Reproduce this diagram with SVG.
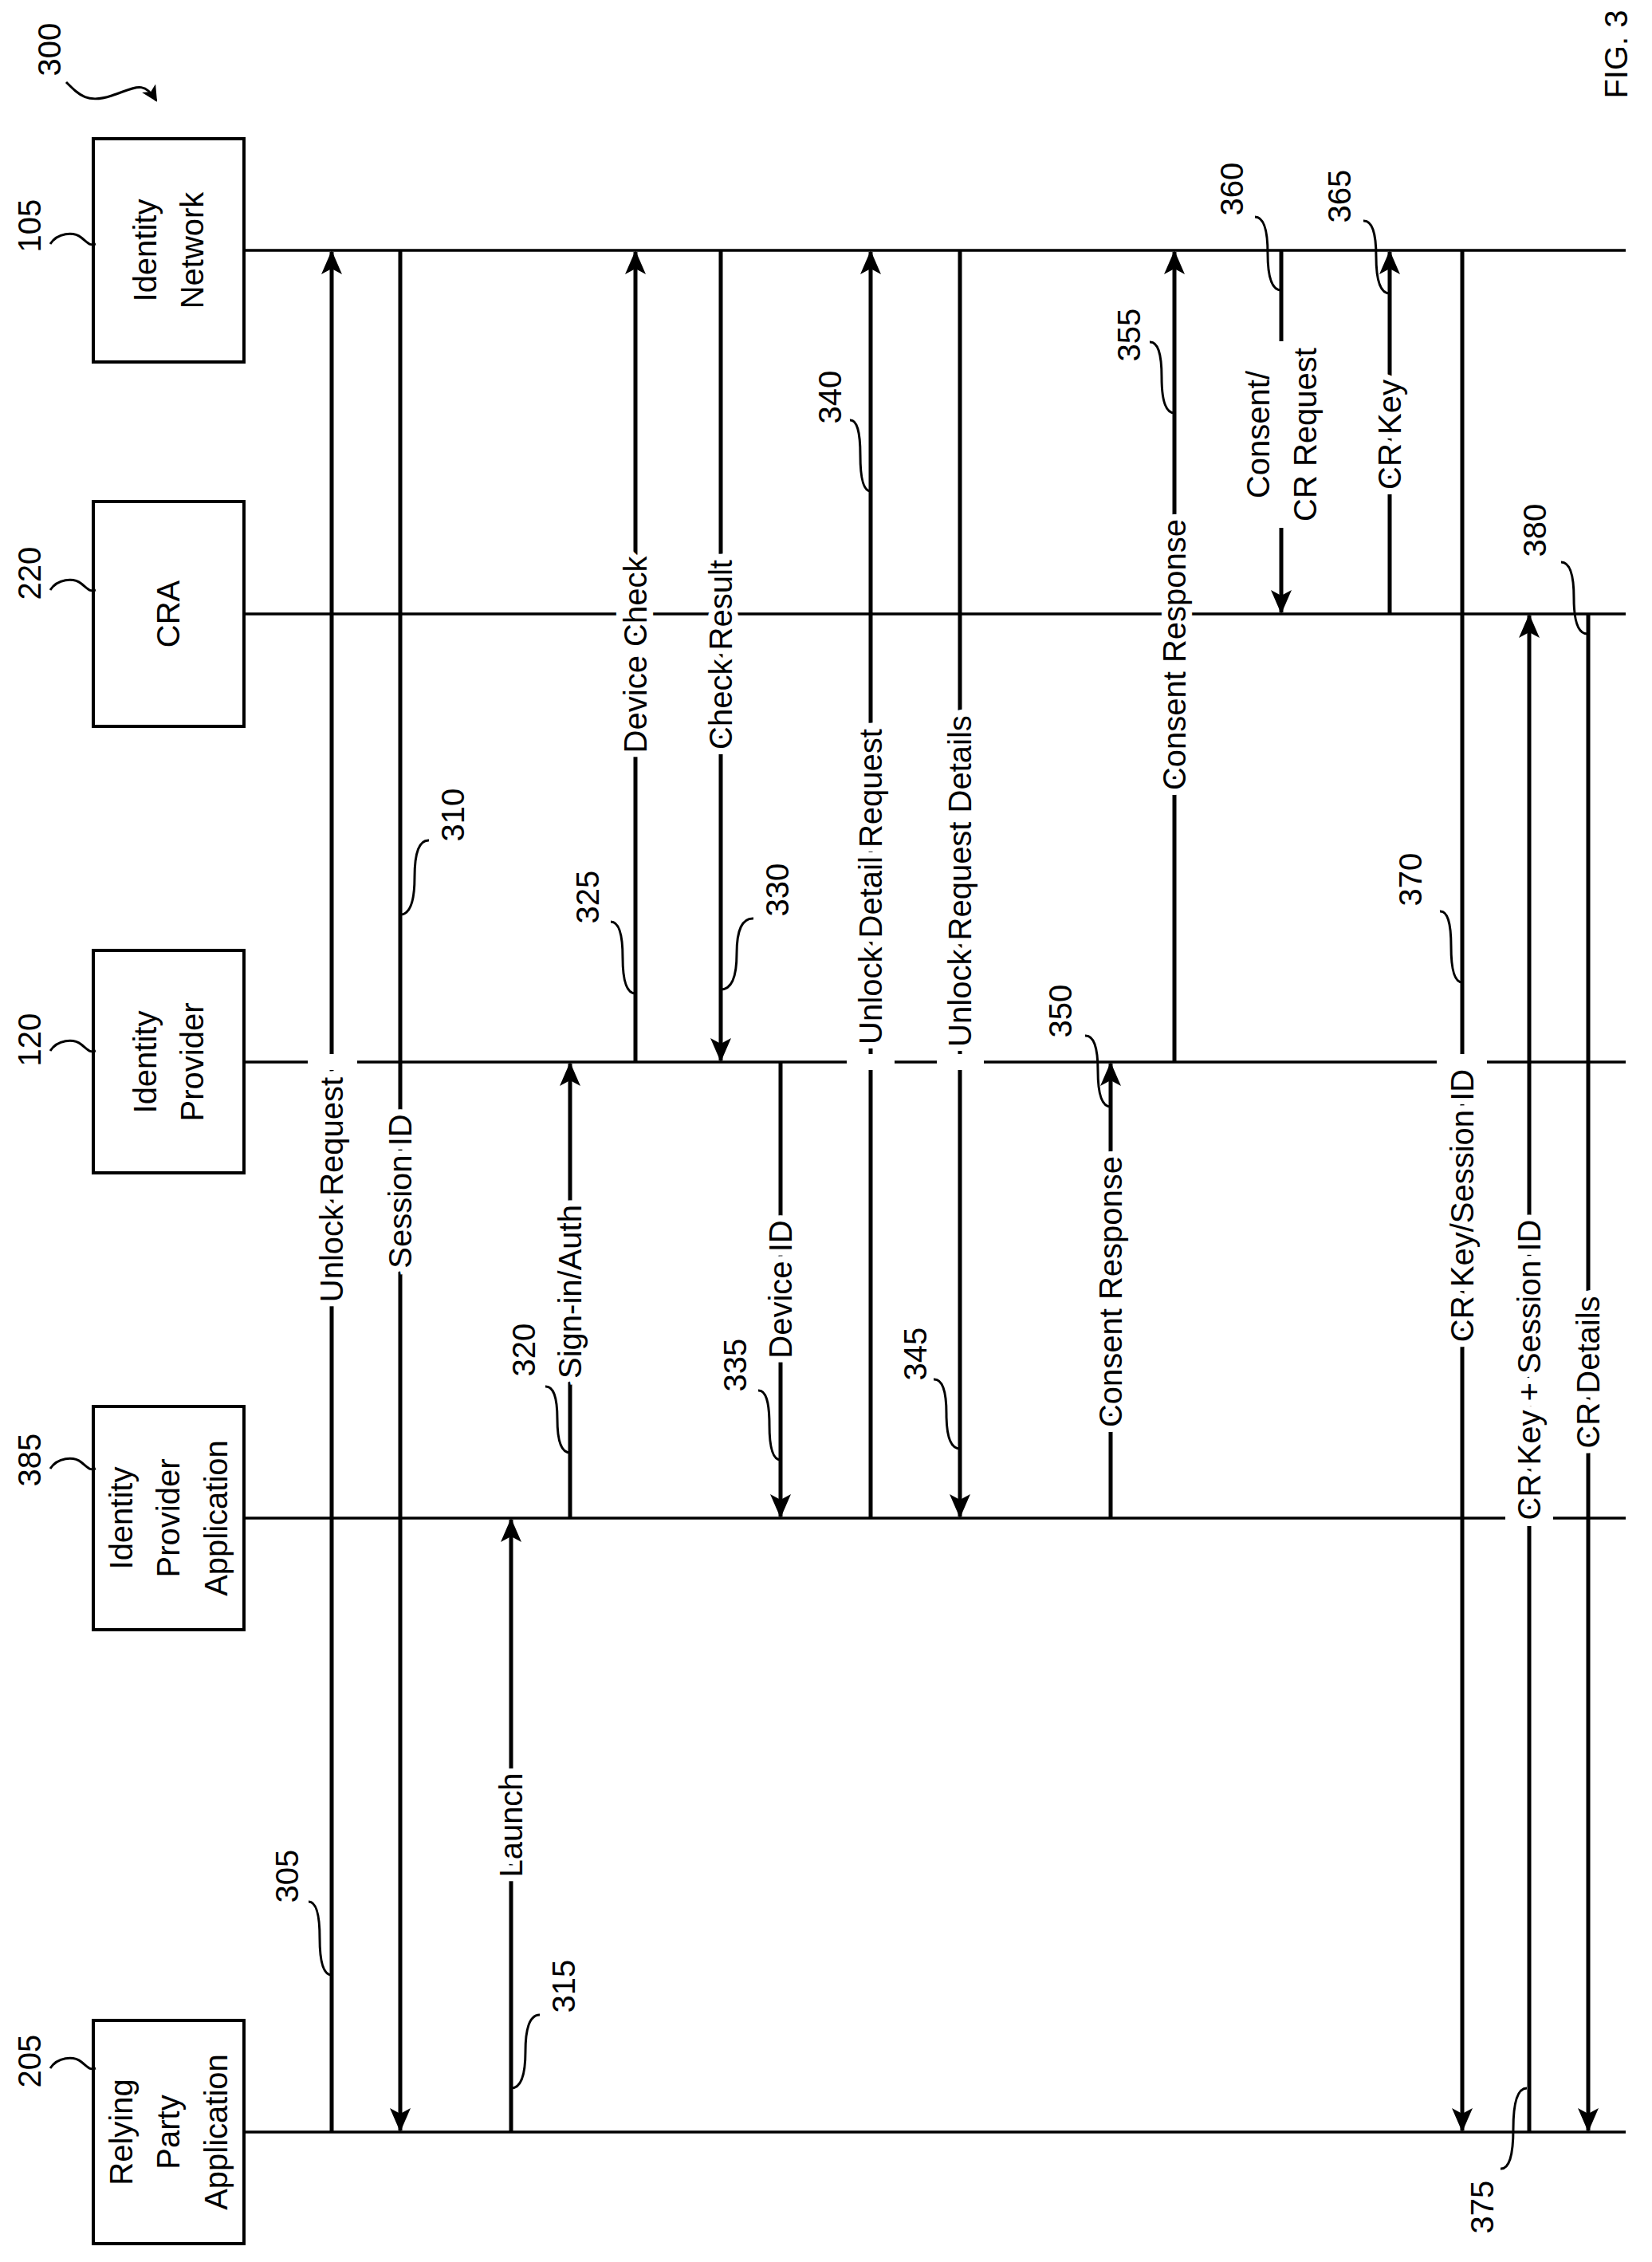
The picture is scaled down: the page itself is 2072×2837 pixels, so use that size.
<svg xmlns="http://www.w3.org/2000/svg" width="2072" height="2837" viewBox="0 0 2072 2837">
<style>
.t{font-family:"Liberation Sans",Arial,sans-serif;font-size:40px;text-anchor:middle;dominant-baseline:central;fill:#000}
.lb{stroke:#fff;stroke-width:16px;paint-order:stroke}
.box{fill:#fff;stroke:#000;stroke-width:4}
.life{stroke:#000;stroke-width:3.5;fill:none}
.msg{stroke:#000;stroke-width:5;fill:none}
.ld{stroke:#000;stroke-width:3;fill:none}
</style>
<defs>
<marker id="ah" markerUnits="userSpaceOnUse" markerWidth="30" markerHeight="30" viewBox="0 0 30 30" refX="28" refY="15" orient="auto">
<path d="M0,2 L30,15 L0,28 L7,15 Z" fill="#000"/>
</marker>
<marker id="ah2" markerUnits="userSpaceOnUse" markerWidth="20" markerHeight="20" viewBox="0 0 20 20" refX="18" refY="10" orient="auto">
<path d="M0,0 L20,10 L0,20 L5,10 Z" fill="#000"/>
</marker>
</defs>
<rect width="2072" height="2837" fill="#fff"/>
<text class="t" font-size="48" transform="translate(2027,68) rotate(-90)">FIG. 3</text>
<g id="ref300">
<text class="t" transform="translate(62,62) rotate(-90)">300</text>
<path class="ld" d="M83,103 C100,120 110,130 140,120 S180,100 196,126" marker-end="url(#ah2)"/>
</g>
<g id="lifelines">
<line class="life" x1="306" y1="314" x2="2039" y2="314"/>
<line class="life" x1="306" y1="770" x2="2039" y2="770"/>
<line class="life" x1="306" y1="1332" x2="2039" y2="1332"/>
<line class="life" x1="306" y1="1904" x2="2039" y2="1904"/>
<line class="life" x1="306" y1="2674" x2="2039" y2="2674"/>
</g>
<g id="n105"><rect class="box" x="117" y="174" width="189" height="280"/>
<text class="t" transform="translate(182,314) rotate(-90)">Identity</text>
<text class="t" transform="translate(241,314) rotate(-90)">Network</text>
<text class="t" transform="translate(37,283) rotate(-90)">105</text>
<path class="ld" d="M63,306 C72,292 92,290 102,298 S112,308 120,306"/></g>
<g id="n220"><rect class="box" x="117" y="629" width="189" height="282"/>
<text class="t" transform="translate(211,770) rotate(-90)">CRA</text>
<text class="t" transform="translate(37,719) rotate(-90)">220</text>
<path class="ld" d="M63,740 C72,726 92,724 102,732 S112,742 120,740"/></g>
<g id="n120"><rect class="box" x="117" y="1192" width="189" height="279"/>
<text class="t" transform="translate(182,1332) rotate(-90)">Identity</text>
<text class="t" transform="translate(241,1332) rotate(-90)">Provider</text>
<text class="t" transform="translate(37,1304) rotate(-90)">120</text>
<path class="ld" d="M63,1318 C72,1304 92,1302 102,1310 S112,1320 120,1318"/></g>
<g id="n385"><rect class="box" x="117" y="1764" width="189" height="280"/>
<text class="t" transform="translate(152,1904) rotate(-90)">Identity</text>
<text class="t" transform="translate(211,1904) rotate(-90)">Provider</text>
<text class="t" transform="translate(271,1904) rotate(-90)">Application</text>
<text class="t" transform="translate(37,1831) rotate(-90)">385</text>
<path class="ld" d="M63,1842 C72,1828 92,1826 102,1834 S112,1844 120,1842"/></g>
<g id="n205"><rect class="box" x="117" y="2534" width="189" height="280"/>
<text class="t" transform="translate(152,2674) rotate(-90)">Relying</text>
<text class="t" transform="translate(211,2674) rotate(-90)">Party</text>
<text class="t" transform="translate(271,2674) rotate(-90)">Application</text>
<text class="t" transform="translate(37,2585) rotate(-90)">205</text>
<path class="ld" d="M63,2594 C72,2580 92,2578 102,2586 S112,2596 120,2594"/></g>
<g id="connectors">
<line class="msg" x1="416" y1="2674" x2="416" y2="316" marker-end="url(#ah)"/>
<line class="msg" x1="502" y1="314" x2="502" y2="2672" marker-end="url(#ah)"/>
<line class="msg" x1="641" y1="2674" x2="641" y2="1906" marker-end="url(#ah)"/>
<line class="msg" x1="715" y1="1904" x2="715" y2="1334" marker-end="url(#ah)"/>
<line class="msg" x1="797" y1="1332" x2="797" y2="316" marker-end="url(#ah)"/>
<line class="msg" x1="904" y1="314" x2="904" y2="1330" marker-end="url(#ah)"/>
<line class="msg" x1="979" y1="1332" x2="979" y2="1902" marker-end="url(#ah)"/>
<line class="msg" x1="1092" y1="1904" x2="1092" y2="316" marker-end="url(#ah)"/>
<line class="msg" x1="1204" y1="314" x2="1204" y2="1902" marker-end="url(#ah)"/>
<line class="msg" x1="1393" y1="1904" x2="1393" y2="1334" marker-end="url(#ah)"/>
<line class="msg" x1="1473" y1="1332" x2="1473" y2="316" marker-end="url(#ah)"/>
<line class="msg" x1="1607" y1="314" x2="1607" y2="768" marker-end="url(#ah)"/>
<line class="msg" x1="1743" y1="770" x2="1743" y2="316" marker-end="url(#ah)"/>
<line class="msg" x1="1834" y1="314" x2="1834" y2="2672" marker-end="url(#ah)"/>
<line class="msg" x1="1918" y1="2674" x2="1918" y2="772" marker-end="url(#ah)"/>
<line class="msg" x1="1992" y1="770" x2="1992" y2="2672" marker-end="url(#ah)"/>
<rect x="1552" y="428" width="110" height="234" fill="#fff"/>
<rect x="386" y="1322" width="62" height="20" fill="#fff"/>
<rect x="1062" y="1322" width="60" height="20" fill="#fff"/>
<rect x="1175" y="1322" width="59" height="20" fill="#fff"/>
<rect x="1802" y="1322" width="63" height="20" fill="#fff"/>
<rect x="1888" y="1894" width="60" height="20" fill="#fff"/>
</g>
<g id="labels">
<text class="t lb" transform="translate(416,1492) rotate(-90)">Unlock Request</text>
<text class="t lb" transform="translate(502,1494) rotate(-90)">Session ID</text>
<text class="t lb" transform="translate(641,2289) rotate(-90)">Launch</text>
<text class="t lb" transform="translate(715,1620) rotate(-90)">Sign-in/Auth</text>
<text class="t lb" transform="translate(797,821) rotate(-90)">Device Check</text>
<text class="t lb" transform="translate(904,821) rotate(-90)">Check Result</text>
<text class="t lb" transform="translate(979,1617) rotate(-90)">Device ID</text>
<text class="t lb" transform="translate(1092,1112) rotate(-90)">Unlock Detail Request</text>
<text class="t lb" transform="translate(1204,1105) rotate(-90)">Unlock Request Details</text>
<text class="t lb" transform="translate(1393,1620) rotate(-90)">Consent Response</text>
<text class="t lb" transform="translate(1473,821) rotate(-90)">Consent Response</text>
<text class="t" transform="translate(1578,545) rotate(-90)">Consent/</text>
<text class="t" transform="translate(1637,545) rotate(-90)">CR Request</text>
<text class="t lb" transform="translate(1743,545) rotate(-90)">CR Key</text>
<text class="t lb" transform="translate(1834,1512) rotate(-90)">CR Key/Session ID</text>
<text class="t lb" transform="translate(1918,1718) rotate(-90)">CR Key + Session ID</text>
<text class="t lb" transform="translate(1992,1721) rotate(-90)">CR Details</text>
</g>
<g id="refs">
<text class="t" transform="translate(360,2353) rotate(-90)">305</text>
<path class="ld" d="M416,2477 Q401,2477 401,2431 T387,2385"/>
<text class="t" transform="translate(568,1022) rotate(-90)">310</text>
<path class="ld" d="M502,1147 Q520,1147 520,1100 T538,1054"/>
<text class="t" transform="translate(707,2491) rotate(-90)">315</text>
<path class="ld" d="M641,2619 Q659,2619 659,2573 T677,2527"/>
<text class="t" transform="translate(657,1693) rotate(-90)">320</text>
<path class="ld" d="M715,1822 Q699,1822 699,1780 T684,1739"/>
<text class="t" transform="translate(737,1125) rotate(-90)">325</text>
<path class="ld" d="M797,1246 Q781,1246 781,1201 T766,1156"/>
<text class="t" transform="translate(975,1116) rotate(-90)">330</text>
<path class="ld" d="M904,1241 Q924,1241 924,1196 T945,1152"/>
<text class="t" transform="translate(922,1712) rotate(-90)">335</text>
<path class="ld" d="M979,1831 Q965,1831 965,1787 T951,1744"/>
<text class="t" transform="translate(1041,498) rotate(-90)">340</text>
<path class="ld" d="M1092,616 Q1079,616 1079,571 T1066,527"/>
<text class="t" transform="translate(1148,1698) rotate(-90)">345</text>
<path class="ld" d="M1204,1817 Q1187,1817 1187,1773 T1171,1730"/>
<text class="t" transform="translate(1330,1268) rotate(-90)">350</text>
<path class="ld" d="M1393,1388 Q1377,1388 1377,1343 T1361,1299"/>
<text class="t" transform="translate(1416,420) rotate(-90)">355</text>
<path class="ld" d="M1473,518 Q1457,518 1457,473 T1442,429"/>
<text class="t" transform="translate(1545,237) rotate(-90)">360</text>
<path class="ld" d="M1607,364 Q1590,364 1590,318 T1574,272"/>
<text class="t" transform="translate(1680,246) rotate(-90)">365</text>
<path class="ld" d="M1743,368 Q1726,368 1726,322 T1710,277"/>
<text class="t" transform="translate(1769,1103) rotate(-90)">370</text>
<path class="ld" d="M1834,1232 Q1820,1232 1820,1187 T1806,1143"/>
<text class="t" transform="translate(1859,2768) rotate(-90)">375</text>
<path class="ld" d="M1915,2619 Q1898,2619 1898,2670 T1882,2720"/>
<text class="t" transform="translate(1925,665) rotate(-90)">380</text>
<path class="ld" d="M1991,795 Q1974,795 1974,750 T1958,705"/>
</g>
</svg>
